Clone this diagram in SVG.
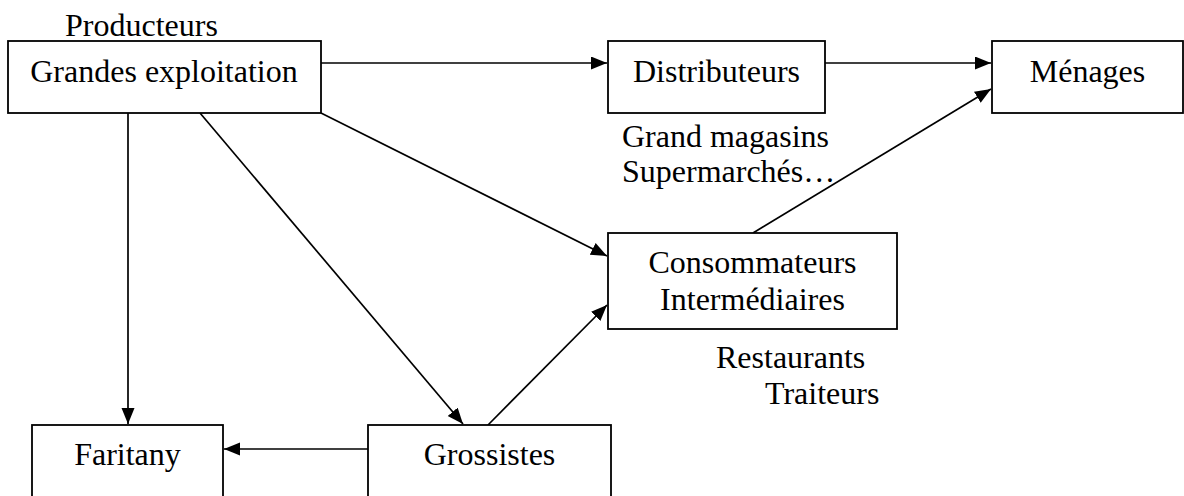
<svg xmlns="http://www.w3.org/2000/svg" width="1184" height="496" viewBox="0 0 1184 496">
  <style>
    .box { fill: #ffffff; stroke: #000000; stroke-width: 1.8; }
    .lbl { font-family: "Liberation Serif", "Times New Roman", serif; font-size: 32px; fill: #000000; }
    .mid { text-anchor: middle; }
    .edge { stroke: #000000; stroke-width: 1.7; fill: none; marker-end: url(#arrow); }
  </style>
  <defs>
    <marker id="arrow" markerUnits="userSpaceOnUse" markerWidth="17" markerHeight="14" refX="16" refY="6.5" orient="auto">
      <path d="M0,0 L16,6.5 L0,13 z" fill="#000000"/>
    </marker>
  </defs>
  <rect width="1184" height="496" fill="#ffffff"/>

  <g id="connectors">
    <line class="edge" x1="321" y1="63" x2="607" y2="63"/>
    <line class="edge" x1="825" y1="63" x2="991" y2="63"/>
    <line class="edge" x1="753" y1="233" x2="991" y2="89"/>
    <line class="edge" x1="321" y1="113" x2="607" y2="256"/>
    <line class="edge" x1="200" y1="113" x2="463" y2="424"/>
    <line class="edge" x1="488" y1="425" x2="607" y2="305"/>
    <line class="edge" x1="128" y1="113" x2="128" y2="424"/>
    <line class="edge" x1="368" y1="449" x2="224" y2="449"/>
  </g>

  <g id="producteurs">
    <text class="lbl" x="65" y="36">Producteurs</text>
  </g>
  <g id="grandes-exploitation">
    <rect class="box" x="8" y="41" width="313" height="72"/>
    <text class="lbl mid" x="164" y="82">Grandes exploitation</text>
  </g>
  <g id="distributeurs">
    <rect class="box" x="608" y="41" width="217" height="72"/>
    <text class="lbl mid" x="716.5" y="82">Distributeurs</text>
    <text class="lbl" x="622" y="147">Grand magasins</text>
    <text class="lbl" x="622" y="182">Supermarchés…</text>
  </g>
  <g id="menages">
    <rect class="box" x="992" y="41" width="191" height="72"/>
    <text class="lbl mid" x="1087.5" y="82">Ménages</text>
  </g>
  <g id="consommateurs">
    <rect class="box" x="608" y="233" width="289" height="96"/>
    <text class="lbl mid" x="752.5" y="273">Consommateurs</text>
    <text class="lbl mid" x="752.5" y="310">Intermédiaires</text>
    <text class="lbl" x="716" y="368">Restaurants</text>
    <text class="lbl" x="765" y="404">Traiteurs</text>
  </g>
  <g id="faritany">
    <rect class="box" x="32" y="425" width="191" height="90"/>
    <text class="lbl mid" x="127.5" y="465">Faritany</text>
  </g>
  <g id="grossistes">
    <rect class="box" x="368" y="425" width="243" height="90"/>
    <text class="lbl mid" x="489.5" y="465">Grossistes</text>
  </g>
</svg>
